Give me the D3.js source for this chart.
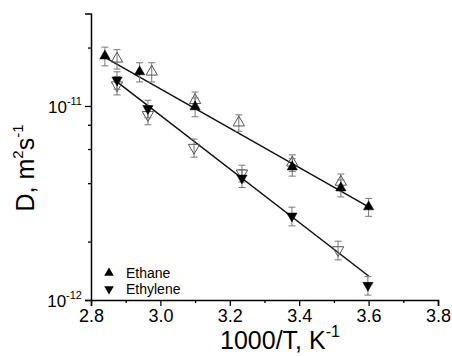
<!DOCTYPE html>
<html><head><meta charset="utf-8">
<script src="https://cdn.jsdelivr.net/npm/d3@7"></script>
<style>body{margin:0;background:#fff}svg{display:block;font-family:Arial,"Liberation Sans",sans-serif}</style>
</head><body><svg id="c" width="452" height="356"></svg>
<script>
// Data (1000/T in K^-1, D in m^2/s)
const ethaneFilledX = [2.84, 2.94, 3.10, 3.38, 3.52, 3.60];
const ethaneFilledD = [1.81e-11, 1.50e-11, 9.9e-12, 4.85e-12, 3.78e-12, 3.02e-12];
const ethaneFilledErr = [0.20e-11, 0.17e-11, 1.1e-12, 0.5e-12, 0.38e-12, 0.32e-12];
const ethaneOpenX = [2.875, 2.975, 3.10, 3.226, 3.38, 3.52];
const ethaneOpenD = [1.75e-11, 1.50e-11, 1.07e-11, 8.2e-12, 5.1e-12, 4.06e-12];
const ethaneOpenErr = [0.20e-11, 0.17e-11, 1.1e-12, 0.8e-12, 0.5e-12, 0.4e-12];
const ethyleneFilledX = [2.875, 2.964, 3.235, 3.379, 3.598];
const ethyleneFilledD = [1.36e-11, 9.7e-12, 4.25e-12, 2.71e-12, 1.19e-12];
const ethyleneFilledErr = [0.14e-11, 1.0e-12, 0.45e-12, 0.3e-12, 0.13e-12];
const ethyleneOpenX = [2.875, 2.964, 3.097, 3.235, 3.512];
const ethyleneOpenD = [1.28e-11, 9.0e-12, 6.1e-12, 4.5e-12, 1.81e-12];
const ethyleneOpenErr = [0.14e-11, 1.0e-12, 0.65e-12, 0.45e-12, 0.2e-12];
const ethaneFitX = [2.84, 3.60];
const ethaneFitD = [1.78e-11, 3.02e-12];
const ethyleneFitX = [2.875, 3.60];
const ethyleneFitD = [1.33e-11, 1.33e-12];
const xTicks = [2.8, 3.0, 3.2, 3.4, 3.6, 3.8];
const xMinor = [2.9, 3.1, 3.3, 3.5, 3.7];
const yMajor = [1e-12, 1e-11];
const yMajorExp = ["-12", "-11"];
const yMinor = [2e-12, 4e-12, 6e-12, 8e-12, 2e-11];
const legendNames = ["Ethane", "Ethylene"];

const svg = d3.select("#c");
const L = 91, R = 438, T = 13.4, B = 300;
const x = d3.scaleLinear().domain([2.8, 3.8]).range([L, R]);
const y = d3.scaleLog().domain([1e-12, 3e-11]).range([B, T]);

// axes
const xAxis = d3.axisBottom(x).tickValues(xTicks).tickFormat(d3.format(".1f")).tickSize(6).tickPadding(3);
const gx = svg.append("g").attr("transform", `translate(0,${B})`).call(xAxis);
gx.select(".domain").attr("stroke", "#000").attr("stroke-width", 1.5);
gx.selectAll(".tick line").attr("stroke", "#000").attr("stroke-width", 1.3);
gx.selectAll(".tick text").attr("font-size", 18).attr("fill", "#000").attr("font-family", "Arial, Liberation Sans, sans-serif");
svg.append("g").attr("transform", `translate(0,${B})`)
  .call(d3.axisBottom(x).tickValues(xMinor).tickSize(3).tickFormat(""))
  .call(g => g.select(".domain").remove())
  .selectAll(".tick line").attr("stroke", "#000").attr("stroke-width", 1.3);

const gy = svg.append("g").attr("transform", `translate(${L},0)`)
  .call(d3.axisLeft(y).tickValues(yMajor).tickFormat("").tickSize(6));
gy.select(".domain").attr("stroke", "#000").attr("stroke-width", 1.5);
gy.selectAll(".tick line").attr("stroke", "#000").attr("stroke-width", 1.3);
svg.append("g").attr("transform", `translate(${L},0)`)
  .call(d3.axisLeft(y).tickValues(yMinor).tickSize(3).tickFormat(""))
  .call(g => g.select(".domain").remove())
  .selectAll(".tick line").attr("stroke", "#000").attr("stroke-width", 1.3);

// y tick labels 10^n
yMajor.forEach((v, i) => {
  const t = svg.append("text").attr("x", L - 9).attr("y", y(v) + 7)
    .attr("text-anchor", "end").attr("font-size", 17).attr("fill", "#000");
  t.append("tspan").text("10");
  t.append("tspan").attr("font-size", 11).attr("dy", -8).text(yMajorExp[i]);
});

// axis titles
const xt = svg.append("text").attr("x", 280).attr("y", 349).attr("text-anchor", "middle")
  .attr("font-size", 25).attr("fill", "#000");
xt.append("tspan").text("1000/T, K");
xt.append("tspan").attr("font-size", 16).attr("dy", -12).text("-1");

const yt = svg.append("text").attr("transform", "translate(34,168) rotate(-90)")
  .attr("text-anchor", "middle").attr("font-size", 25).attr("fill", "#000");
yt.append("tspan").text("D, m");
yt.append("tspan").attr("font-size", 15).attr("dy", -11).text("2");
yt.append("tspan").attr("font-size", 25).attr("dy", 11).text("s");
yt.append("tspan").attr("font-size", 15).attr("dy", -11).text("-1");

// fit lines
const line = d3.line().x(d => x(d[0])).y(d => y(d[1]));
svg.append("path").attr("d", line(d3.zip(ethaneFitX, ethaneFitD)))
  .attr("fill", "none").attr("stroke", "#111").attr("stroke-width", 1.5);
svg.append("path").attr("d", line(d3.zip(ethyleneFitX, ethyleneFitD)))
  .attr("fill", "none").attr("stroke", "#111").attr("stroke-width", 1.5);

// error bars + markers
function series(xs, ds, es, type, filled) {
  const data = d3.zip(xs, ds, es);
  const g = svg.append("g");
  data.forEach(([xv, dv, ev]) => {
    const cx = x(xv), y1 = y(dv + ev), y2 = y(dv - ev);
    const eb = g.append("g").attr("stroke", "#777").attr("stroke-width", 1);
    eb.append("line").attr("x1", cx).attr("x2", cx).attr("y1", y1).attr("y2", y2);
    eb.append("line").attr("x1", cx - 3.5).attr("x2", cx + 3.5).attr("y1", y1).attr("y2", y1);
    eb.append("line").attr("x1", cx - 3.5).attr("x2", cx + 3.5).attr("y1", y2).attr("y2", y2);
  });
  data.forEach(([xv, dv]) => {
    const sym = d3.symbol().type(d3.symbolTriangle).size(filled ? 46 : 56);
    g.append("path").attr("d", sym())
      .attr("transform", `translate(${x(xv)},${y(dv)}) rotate(${type === "down" ? 180 : 0})`)
      .attr("fill", filled ? "#000" : "#fff")
      .attr("fill-opacity", filled ? 1 : 0)
      .attr("stroke", filled ? "#000" : "#555").attr("stroke-width", filled ? 0.5 : 1);
  });
}
series(ethaneOpenX, ethaneOpenD, ethaneOpenErr, "up", false);
series(ethyleneOpenX, ethyleneOpenD, ethyleneOpenErr, "down", false);
series(ethaneFilledX, ethaneFilledD, ethaneFilledErr, "up", true);
series(ethyleneFilledX, ethyleneFilledD, ethyleneFilledErr, "down", true);

// legend
legendNames.forEach((n, i) => {
  const ly = 273 + i * 16;
  svg.append("path").attr("d", d3.symbol().type(d3.symbolTriangle).size(40)())
    .attr("transform", `translate(109,${ly}) rotate(${i ? 180 : 0})`).attr("fill", "#000");
  svg.append("text").attr("x", 126).attr("y", ly + 5).attr("font-size", 14).attr("fill", "#000").text(n);
});
</script></body></html>
